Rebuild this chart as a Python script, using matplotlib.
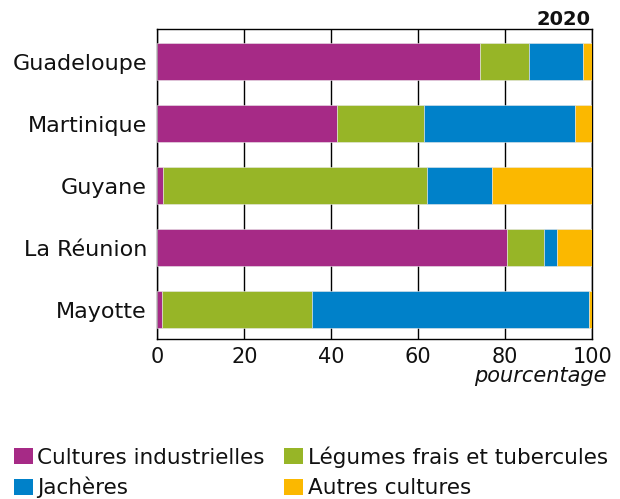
import matplotlib
matplotlib.use("Agg")
import matplotlib.pyplot as plt
from matplotlib.patches import Rectangle

plt.rcParams['font.family'] = ['DejaVu Sans']

regions = ["Guadeloupe", "Martinique", "Guyane", "La Réunion", "Mayotte"]
series_names = ["Cultures industrielles", "Légumes frais et tubercules", "Jachères", "Autres cultures"]
cultures_industrielles = [74.2, 41.3, 1.2, 80.4, 1.1]
legumes = [11.2, 20.1, 60.7, 8.4, 34.4]
jacheres = [12.5, 34.6, 15.0, 3.1, 63.7]
autres = [2.1, 4.0, 23.1, 8.1, 0.8]
colors = ["#A62A86", "#97B527", "#0081C9", "#FBB800"]
year = "2020"
xticks = [0, 20, 40, 60, 80, 100]

W, H = 620, 499
fig = plt.figure(figsize=(W / 100, H / 100), dpi=100)
ax = fig.add_axes([157.3 / W, 1 - 338.8 / H, 435 / W, 309.8 / H])

ypos = list(range(len(regions)))
left = [0.0] * len(regions)
for vals, col in zip([cultures_industrielles, legumes, jacheres, autres], colors):
    ax.barh(ypos, vals, left=left, height=0.6, color=col, edgecolor='#e8e8e8', linewidth=0.4, zorder=3)
    left = [l + v for l, v in zip(left, vals)]

ax.set_xlim(0, 100)
ax.set_ylim(4.47, -0.53)
ax.set_xticks(xticks)
ax.set_xticklabels([str(t) for t in xticks])
ax.set_yticks(ypos)
ax.set_yticklabels(regions)
ax.tick_params(axis='both', length=0, colors='#111111')
ax.tick_params(axis='x', pad=6, labelsize=15)
ax.tick_params(axis='y', pad=7.5, labelsize=16)
ax.xaxis.grid(True, color='black', linewidth=1.0, zorder=0)
ax.set_axisbelow(True)
for s in ax.spines.values():
    s.set_color('black')
    s.set_linewidth(1.0)

fig.text(591 / W, 1 - 25 / H, year, ha='right', va='baseline', fontsize=14, fontweight='bold', color='#111111')
fig.text(607 / W, 1 - 382 / H, "pourcentage", ha='right', va='baseline', fontsize=15, style='italic', color='#111111')

# legend (two columns, two rows)
legend_items = [(series_names[0], colors[0], 14, 37, 0),
                (series_names[2], colors[2], 14, 37, 1),
                (series_names[1], colors[1], 284, 308, 0),
                (series_names[3], colors[3], 284, 308, 1)]
row_top = [447.5, 478.5]
row_base = [463.5, 494.5]
for name, col, sx, tx, r in legend_items:
    fig.patches.append(Rectangle((sx / W, 1 - (row_top[r] + 16) / H), 19 / W, 16 / H,
                                 transform=fig.transFigure, facecolor=col, edgecolor='none'))
    fig.text(tx / W, 1 - row_base[r] / H, name, ha='left', va='baseline', fontsize=15.5, color='#111111')

fig.savefig("out.png", dpi=100)
